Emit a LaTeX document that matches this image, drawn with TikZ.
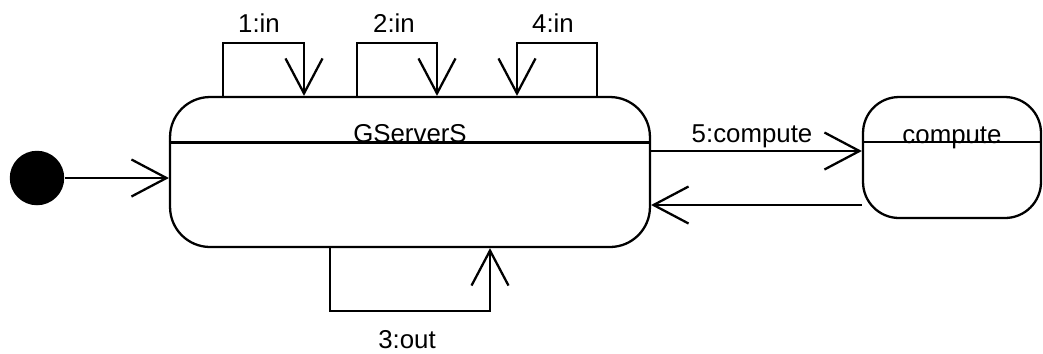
\documentclass[tikz,border=0pt]{standalone}
\usepackage{fontspec}
\setmainfont{Liberation Sans}
\usetikzlibrary{positioning, arrows.meta, calc}
\tikzset{
  statebox/.style={draw, rounded corners=0.8cm, inner sep=0pt},
  initstate/.style={circle, fill=black, minimum size=1.09cm, inner sep=0pt},
  trans/.style={-{Straight Barb[length=0.7cm, width=0.74cm]}},
  lbl/.style={font=\fontsize{14.7}{17}\selectfont, inner sep=0pt},
}

\begin{document}
\begin{tikzpicture}[x=0.02cm, y=-0.02cm, line width=1.3pt]
  \useasboundingbox (0,0) rectangle (1043,353);
  % states
  \node[initstate] (init) at (37,178) {};
  \node[statebox, minimum width=9.6cm, minimum height=3cm] (gs) at (410,172) {};
  \node[statebox, rounded corners=0.72cm, minimum width=3.56cm, minimum height=2.42cm] (cp) at (952,157.5) {};
  \draw (gs.west |- 0,142.5) -- (gs.east |- 0,142.5);
  \draw (cp.west |- 0,142) -- (cp.east |- 0,142);
  \node[lbl, anchor=base] (gsname) at (410,142) {GServerS};
  \node[lbl, anchor=base] (cpname) at (952,143) {compute};

  % transitions
  \draw[trans] (init) -- (init -| gs.west);
  \draw[trans] (gs.north -| 223,0) -- ++(0,-53) -| (gs.north -| 304,0);
  \draw[trans] (gs.north -| 357,0) -- ++(0,-53) -| (gs.north -| 437,0);
  \draw[trans] (gs.north -| 597,0) -- ++(0,-53) -| (gs.north -| 517,0);
  \draw[trans] (gs.south -| 330,0) -- ++(0,63) -| (gs.south -| 490,0);
  \draw[trans] (gs.east |- 0,151) -- (cp.west |- 0,151);
  \draw[trans] (cp.west |- 0,205) -- (gs.east |- 0,205);

  % labels
  \node[lbl, anchor=base] (in1) at (259,32) {1:in};
  \node[lbl, anchor=base] (in2) at (394,32) {2:in};
  \node[lbl, anchor=base] (in4) at (553,32) {4:in};
  \node[lbl, anchor=base] (out3) at (407,348) {3:out};
  \node[lbl, anchor=base] (comp5) at (752,142) {5:compute};
\end{tikzpicture}
\end{document}
